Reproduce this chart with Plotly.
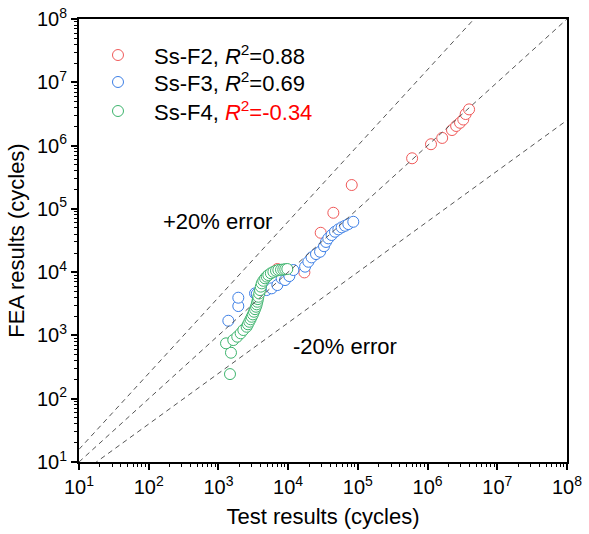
import plotly.graph_objects as go

# ---- data (test cycles, FEA cycles) ----
f2_test = [7.0e3, 1.71e4, 2.93e4, 4.45e4, 8.17e4, 6.0e5, 1.12e6, 1.62e6, 2.24e6,
           2.57e6, 2.92e6, 3.25e6, 3.52e6, 3.94e6]
f2_fea = [1.12e4, 9.9e3, 4.19e4, 8.67e4, 2.38e5, 6.3e5, 1.05e6, 1.32e6, 1.76e6,
          2.04e6, 2.29e6, 2.58e6, 3.15e6, 3.73e6]

f3_test = [1387, 1928, 1928, 3350, 3540, 4900, 5800, 7000, 8070, 9020, 1.0e4, 1.04e4,
           1.19e4, 1.75e4, 1.95e4, 2.17e4, 2.51e4, 2.87e4, 3.27e4, 3.49e4, 3.77e4,
           4.2e4, 4.7e4, 5.25e4, 5.86e4, 6.55e4, 7.3e4, 8.6e4]
f3_fea = [1706, 2911, 3945, 4620, 4510, 5210, 5550, 6250, 7980, 7500, 9550, 8670,
          1.08e4, 1.22e4, 1.46e4, 1.71e4, 1.93e4, 2.1e4, 2.57e4, 3.0e4, 3.42e4,
          3.86e4, 4.35e4, 4.74e4, 5.1e4, 5.4e4, 5.75e4, 6.25e4]

f4_test = [1465, 1513, 1285, 1633, 1862, 2083, 2275, 2540, 2650, 2772, 2890, 3000,
           3120, 3236, 3350, 3458, 3540, 3613, 3680, 3735, 3850, 3950, 4050, 4180,
           4400, 4670, 4930, 5200, 5650, 6140, 6700, 7240, 7900, 8520, 9100, 9730]
f4_fea = [245, 533, 750, 845, 955, 1080, 1217, 1372, 1500, 1645, 1800, 1973,
          2150, 2366, 2600, 2838, 3100, 3405, 3750, 4084, 4600, 5210, 5900, 6650,
          7300, 7980, 8500, 9000, 9600, 10100, 10500, 10800, 10900, 11000, 11100, 11200]

series_names = ["Ss-F2, <i>R</i><sup>2</sup>=0.88",
                "Ss-F3, <i>R</i><sup>2</sup>=0.69",
                "Ss-F4, <span style='color:#FF0000'><i>R</i><sup>2</sup>=-0.34</span>"]
series_colors = ["#F05A5A", "#3D7FE6", "#3DB46D"]

ref_exponents = [1.2, 1.0, 0.8]   # +20% error, 1:1, -20% error (in log space)
axis_exp = [1, 2, 3, 4, 5, 6, 7, 8]
tick_text = ["10<sup>%d</sup>" % k for k in axis_exp]
minor_vals = [m * 10 ** k for k in axis_exp[:-1] for m in range(2, 10)]

FONT = "Arial, Liberation Sans, sans-serif"

fig = go.Figure()
series = [(f2_test, f2_fea), (f3_test, f3_fea), (f4_test, f4_fea)]
for (xs, ys), nm, col in zip(series, series_names, series_colors):
    fig.add_trace(go.Scatter(x=xs, y=ys, mode="markers", name=nm, showlegend=False,
                             marker=dict(symbol="circle", size=11, color="white",
                                         line=dict(color=col, width=1))))

x_line = [10 ** axis_exp[0], 10 ** axis_exp[-1]]
for e in ref_exponents:
    fig.add_trace(go.Scatter(x=x_line, y=[v ** e for v in x_line], mode="lines",
                             line=dict(color="#555555", width=1, dash="5px,4px"),
                             showlegend=False, hoverinfo="skip"))

axis_common = dict(type="log", range=[axis_exp[0], axis_exp[-1]], automargin=False,
                   tickmode="array", tickvals=[10 ** k for k in axis_exp], ticktext=tick_text,
                   showline=True, linewidth=2, linecolor="black", mirror=True,
                   ticks="outside", ticklen=6, tickwidth=2, tickcolor="black",
                   minor=dict(tickmode="array", tickvals=minor_vals, ticks="outside",
                              ticklen=3, tickwidth=1, tickcolor="black", showgrid=False),
                   showgrid=False, zeroline=False,
                   tickfont=dict(family=FONT, size=20, color="black"))

fig.update_xaxes(**axis_common,
                 title=dict(text="Test results (cycles)", font=dict(family=FONT, size=22, color="black"),
                            standoff=12))
fig.update_yaxes(**axis_common,
                 title=dict(text="FEA results (cycles)", font=dict(family=FONT, size=22, color="black"),
                            standoff=6))

fig.add_annotation(text="+20% error", xref="paper", yref="paper", x=0.283, y=0.542,
                   xanchor="center", yanchor="middle",
                   showarrow=False, font=dict(family=FONT, size=22, color="black"))
fig.add_annotation(text="-20% error", xref="paper", yref="paper", x=0.545, y=0.26,
                   xanchor="center", yanchor="middle",
                   showarrow=False, font=dict(family=FONT, size=22, color="black"))

# custom legend (symbol + label)
legend_y = [0.9187, 0.8578, 0.7923]
for nm, col, ly in zip(series_names, series_colors, legend_y):
    fig.add_shape(type="circle", xref="paper", yref="paper", xsizemode="pixel", ysizemode="pixel",
                  xanchor=0.0799, yanchor=ly, x0=-5.5, x1=5.5, y0=-5.5, y1=5.5,
                  line=dict(color=col, width=1), fillcolor="white")
    fig.add_annotation(text=nm, xref="paper", yref="paper", x=0.1496, y=ly,
                       xanchor="left", yanchor="middle", showarrow=False,
                       font=dict(family=FONT, size=22, color="black"))

fig.update_layout(width=589, height=534, margin=dict(l=79, r=22, t=19, b=72),
                  plot_bgcolor="white", paper_bgcolor="white",
                  font=dict(family=FONT, color="black"), showlegend=False)

fig.write_html("out.html", config={"displayModeBar": False},
               post_script="document.body.style.margin='0';document.body.style.padding='0';")
